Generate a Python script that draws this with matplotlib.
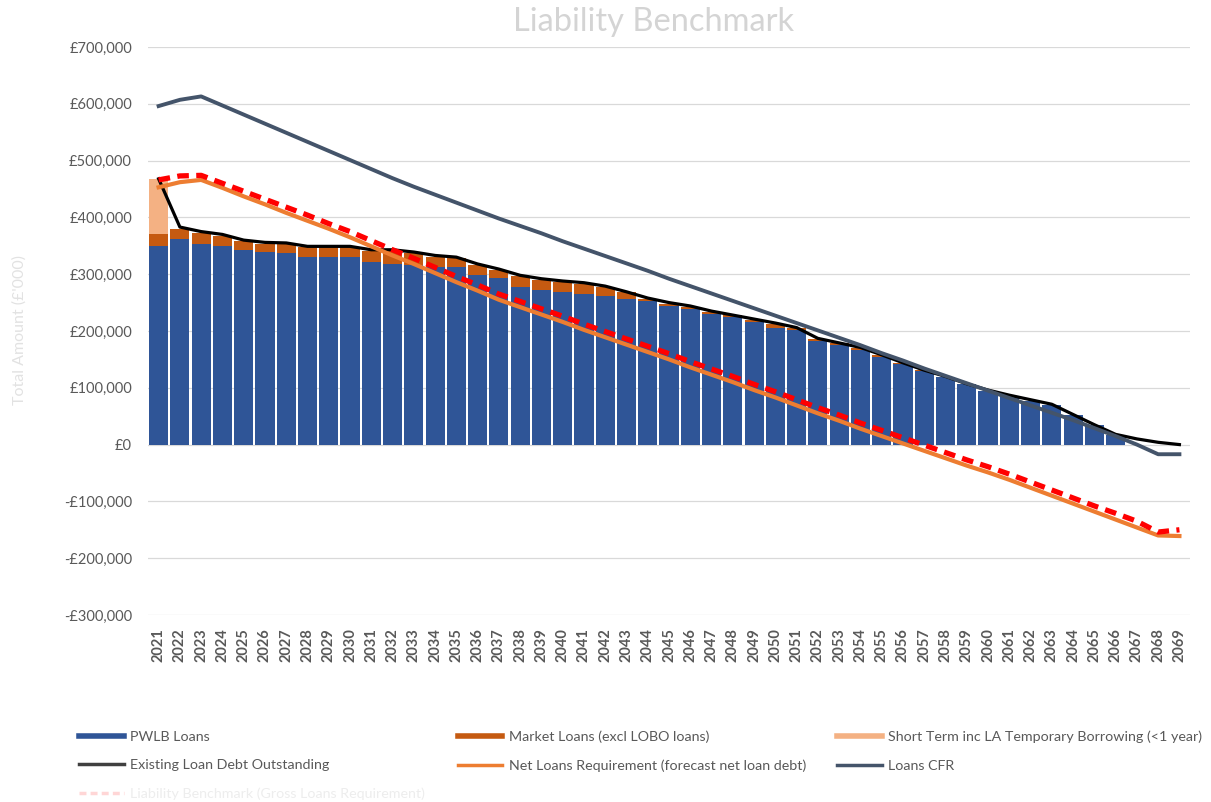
import numpy as np
import matplotlib.pyplot as plt
from matplotlib.lines import Line2D
from matplotlib.ticker import FuncFormatter

plt.rcParams["font.family"] = ["Lato", "DejaVu Sans"]

# data, £'000
years = list(range(2021, 2070))

pwlb = [350, 362, 354, 350, 343, 339, 337, 330, 330, 330,
        322, 318, 317, 313, 312, 299, 293, 278, 272, 268,
        265, 262, 257, 252, 244, 239, 230, 224, 216, 206,
        202, 182, 175, 167, 155, 141, 130, 119, 106, 94,
        85, 77, 69, 52, 34, 17, 0, 0, 0]

market = [20, 18, 18, 18, 15, 15, 16, 17, 17, 17,
          18, 22, 20, 18, 16, 17, 14, 18, 18, 18,
          18, 15, 11, 4, 4, 4, 4, 4, 4, 6,
          3, 4, 3, 3, 2, 2, 1, 0, 0, 0,
          0, 0, 0, 0, 0, 0, 0, 0, 0]

short_term = [97] + [0] * 48

existing_debt = [468, 383, 375, 370, 360, 356, 355, 349, 349, 349,
                 343, 343, 339, 333, 330, 318, 309, 298, 292, 288,
                 285, 279, 269, 258, 250, 244, 235, 228, 221, 214,
                 206, 187, 179, 171, 158, 144, 131, 120, 107, 96,
                 87, 79, 71, 53, 35, 18, 10, 4, 0]

net_loans = [453, 462, 466, 452, 437, 423, 408, 394, 380, 365,
             349, 333, 318, 302, 286, 271, 255, 242, 229, 216,
             202, 189, 176, 163, 150, 136, 123, 110, 96, 83,
             69, 55, 42, 28, 15, 2, -11, -24, -37, -49,
             -62, -76, -90, -104, -118, -132, -146, -160, -161]

loans_cfr = [596, 607, 613, 597, 581, 565, 549, 533, 517, 501,
             485, 469, 454, 440, 426, 412, 398, 385, 372, 358,
             345, 332, 319, 306, 292, 279, 266, 253, 240, 227,
             214, 201, 188, 175, 161, 148, 134, 121, 108, 95,
             82, 69, 56, 43, 29, 15, 0, -17, -17]

liability_bm = [466, 473, 474, 460, 446, 432, 418, 404, 389, 375,
                359, 343, 328, 312, 296, 281, 265, 252, 239, 226,
                212, 199, 186, 173, 160, 146, 133, 120, 106, 93,
                79, 65, 52, 38, 25, 12, -1, -14, -27, -39,
                -52, -66, -80, -94, -108, -121, -135, -154, -150]

x = np.arange(len(years))

fig = plt.figure(figsize=(12.11, 8.02), dpi=100)
ax = fig.add_axes([0.1222, 0.2332, 0.8605, 0.7082])

c_pwlb = "#2F5597"
c_market = "#C55A11"
c_short = "#F4B183"
c_net = "#ED7D31"
c_cfr = "#44546A"

w = 0.9
ax.bar(x, pwlb, w, color=c_pwlb, zorder=2)
ax.bar(x, market, w, bottom=pwlb, color=c_market, zorder=2)
ax.bar(x, short_term, w, bottom=np.add(pwlb, market), color=c_short, zorder=2)

ax.plot(x, existing_debt, color="black", lw=2.3, zorder=3)
ax.plot(x, net_loans, color=c_net, lw=3, zorder=4)
ax.plot(x, loans_cfr, color=c_cfr, lw=2.8, zorder=4)
ax.plot(x, liability_bm, color="#FF0000", lw=3.8, ls=(0, (2.2, 1.4)), zorder=5)

ax.set_xlim(-0.5, len(years) - 0.5)
ax.set_ylim(-300, 700)
ax.set_yticks(np.arange(-300, 701, 100))
ax.yaxis.set_major_formatter(FuncFormatter(
    lambda v, p: ("-" if v < 0 else "") + "£{:,.0f}".format(abs(v) * 1000)))
ax.grid(axis="y", color="#D9D9D9", lw=0.9, zorder=0)
ax.set_axisbelow(True)
for s in ax.spines.values():
    s.set_visible(False)
ax.tick_params(axis="y", length=0, labelsize=10.5, labelcolor="#595959", pad=11.5)
ax.set_xticks(x)
ax.set_xticklabels([str(y) for y in years], rotation=90, fontsize=10.5,
                   color="#595959", fontweight="bold")
ax.tick_params(axis="x", length=0, pad=9.5)

fig.text(0.540, 0.973, "Liability Benchmark", ha="center", va="center",
         fontsize=23.5, color="#D4D4D4")
fig.text(0.016, 0.588, "Total Amount (£'000)", rotation=90, ha="center",
         va="center", fontsize=11.5, color="#E2E2E2")

# legend, three columns placed by hand
def leg(handles, labels, xpos):
    lg = fig.legend(handles, labels, loc="upper left",
                    bbox_to_anchor=(xpos, 0.098), frameon=False,
                    fontsize=10.3, labelcolor="#595959", handlelength=3.1,
                    handletextpad=0.45, labelspacing=1.15, borderpad=0)
    return lg

h_pwlb = Line2D([], [], color=c_pwlb, lw=4)
h_market = Line2D([], [], color=c_market, lw=4)
h_short = Line2D([], [], color=c_short, lw=4)
h_exist = Line2D([], [], color="#404040", lw=2.5)
h_net = Line2D([], [], color=c_net, lw=2.5)
h_cfr = Line2D([], [], color=c_cfr, lw=2.5)
h_lb = Line2D([], [], color="#FFD6D6", lw=2.5, ls=(0, (2, 1.2)))

lg1 = leg([h_pwlb, h_exist, h_lb],
          ["PWLB Loans", "Existing Loan Debt Outstanding",
           "Liability Benchmark (Gross Loans Requirement)"], 0.0595)
lg1.get_texts()[2].set_color("#EDEDED")
leg([h_market, h_net],
    ["Market Loans (excl LOBO loans)",
     "Net Loans Requirement (forecast net loan debt)"], 0.3724)
leg([h_short, h_cfr],
    ["Short Term inc LA Temporary Borrowing (<1 year)", "Loans CFR"], 0.6854)

fig.savefig("out.png", dpi=100)
